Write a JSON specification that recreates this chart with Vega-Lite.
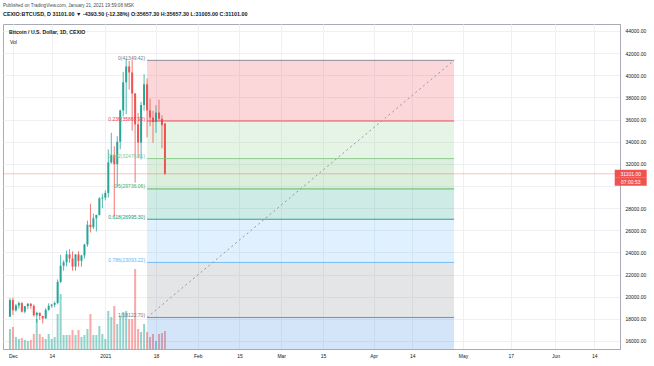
{
  "$schema": "https://vega.github.io/schema/vega-lite/v6.json",
  "width": 617,
  "height": 325,
  "autosize": {"type": "none"},
  "padding": {"left": 3, "top": 24, "right": 34, "bottom": 17},
  "background": "white",
  "config": {
    "font": "Liberation Sans",
    "view": {"stroke": "#a8abb3", "strokeWidth": 1},
    "axis": {"labelFont": "Liberation Sans", "labelFontSize": 5, "labelColor": "#131722", "ticks": false, "domainColor": "#a8abb3", "gridColor": "#eef0f4", "gridWidth": 1, "labelOverlap": false}
  },
  "title": {
    "text": "Published on TradingView.com, January 21, 2021 19:59:08 MSK",
    "subtitle": "CEXIO:BTCUSD, D  31101.00 ▼ -4393.50 (-12.38%) O:35657.30 H:35657.30 L:31005.00 C:31101.00",
    "anchor": "start",
    "frame": "group",
    "fontSize": 4.6,
    "fontWeight": "normal",
    "color": "#4a4a4a",
    "subtitleFontSize": 5.4,
    "subtitleColor": "#131722",
    "subtitleFontWeight": "bold",
    "subtitlePadding": 4,
    "offset": 7
  },
  "datasets": {
    "candles": [
      {"date": "2020-11-30", "open": 18185, "high": 19863, "low": 18185, "close": 19695, "vol": 2000, "dir": "up"},
      {"date": "2020-12-01", "open": 19695, "high": 19920, "low": 18330, "close": 18764, "vol": 2200, "dir": "down"},
      {"date": "2020-12-02", "open": 18764, "high": 19340, "low": 18650, "close": 19204, "vol": 1200, "dir": "up"},
      {"date": "2020-12-03", "open": 19204, "high": 19566, "low": 18925, "close": 19421, "vol": 1000, "dir": "up"},
      {"date": "2020-12-04", "open": 19421, "high": 19510, "low": 18575, "close": 18650, "vol": 1100, "dir": "down"},
      {"date": "2020-12-05", "open": 18650, "high": 19170, "low": 18500, "close": 19147, "vol": 900, "dir": "up"},
      {"date": "2020-12-06", "open": 19147, "high": 19420, "low": 18860, "close": 19359, "vol": 800, "dir": "up"},
      {"date": "2020-12-07", "open": 19359, "high": 19420, "low": 18900, "close": 19166, "vol": 900, "dir": "down"},
      {"date": "2020-12-08", "open": 19166, "high": 19300, "low": 18200, "close": 18324, "vol": 1500, "dir": "down"},
      {"date": "2020-12-09", "open": 18324, "high": 18640, "low": 17650, "close": 18541, "vol": 3000, "dir": "up"},
      {"date": "2020-12-10", "open": 18541, "high": 18560, "low": 17910, "close": 18254, "vol": 1500, "dir": "down"},
      {"date": "2020-12-11", "open": 18254, "high": 18280, "low": 17570, "close": 18036, "vol": 1200, "dir": "down"},
      {"date": "2020-12-12", "open": 18036, "high": 18950, "low": 18000, "close": 18808, "vol": 1000, "dir": "up"},
      {"date": "2020-12-13", "open": 18808, "high": 19400, "low": 18730, "close": 19175, "vol": 1500, "dir": "up"},
      {"date": "2020-12-14", "open": 19175, "high": 19350, "low": 19000, "close": 19273, "vol": 1000, "dir": "up"},
      {"date": "2020-12-15", "open": 19273, "high": 19570, "low": 19050, "close": 19426, "vol": 1200, "dir": "up"},
      {"date": "2020-12-16", "open": 19426, "high": 21560, "low": 19300, "close": 21335, "vol": 3500, "dir": "up"},
      {"date": "2020-12-17", "open": 21335, "high": 23770, "low": 21230, "close": 22797, "vol": 5500, "dir": "up"},
      {"date": "2020-12-18", "open": 22797, "high": 23290, "low": 22350, "close": 23107, "vol": 1400, "dir": "up"},
      {"date": "2020-12-19", "open": 23107, "high": 24170, "low": 22750, "close": 23821, "vol": 1400, "dir": "up"},
      {"date": "2020-12-20", "open": 23821, "high": 24290, "low": 23060, "close": 23455, "vol": 1400, "dir": "down"},
      {"date": "2020-12-21", "open": 23455, "high": 24100, "low": 22350, "close": 22719, "vol": 1900, "dir": "down"},
      {"date": "2020-12-22", "open": 22719, "high": 23850, "low": 22350, "close": 23810, "vol": 1400, "dir": "up"},
      {"date": "2020-12-23", "open": 23810, "high": 24100, "low": 22700, "close": 23232, "vol": 1900, "dir": "down"},
      {"date": "2020-12-24", "open": 23232, "high": 23780, "low": 22710, "close": 23729, "vol": 1200, "dir": "up"},
      {"date": "2020-12-25", "open": 23729, "high": 24770, "low": 23440, "close": 24712, "vol": 1400, "dir": "up"},
      {"date": "2020-12-26", "open": 24712, "high": 26870, "low": 24500, "close": 26493, "vol": 2000, "dir": "up"},
      {"date": "2020-12-27", "open": 26493, "high": 28400, "low": 25800, "close": 26281, "vol": 3500, "dir": "down"},
      {"date": "2020-12-28", "open": 26281, "high": 27500, "low": 26100, "close": 27079, "vol": 1400, "dir": "up"},
      {"date": "2020-12-29", "open": 27079, "high": 27400, "low": 25900, "close": 27385, "vol": 1400, "dir": "up"},
      {"date": "2020-12-30", "open": 27385, "high": 28990, "low": 27330, "close": 28875, "vol": 2300, "dir": "up"},
      {"date": "2020-12-31", "open": 28875, "high": 29300, "low": 28000, "close": 28949, "vol": 1500, "dir": "up"},
      {"date": "2021-01-01", "open": 28949, "high": 29600, "low": 28700, "close": 29374, "vol": 1000, "dir": "up"},
      {"date": "2021-01-02", "open": 29374, "high": 33300, "low": 28950, "close": 32127, "vol": 3800, "dir": "up"},
      {"date": "2021-01-03", "open": 32127, "high": 34800, "low": 32000, "close": 32782, "vol": 3200, "dir": "up"},
      {"date": "2021-01-04", "open": 32782, "high": 33600, "low": 27300, "close": 31971, "vol": 4300, "dir": "down"},
      {"date": "2021-01-05", "open": 31971, "high": 34500, "low": 29900, "close": 33992, "vol": 2500, "dir": "up"},
      {"date": "2021-01-06", "open": 33992, "high": 36900, "low": 33300, "close": 36824, "vol": 3300, "dir": "up"},
      {"date": "2021-01-07", "open": 36824, "high": 40300, "low": 36300, "close": 39371, "vol": 3700, "dir": "up"},
      {"date": "2021-01-08", "open": 39371, "high": 41500, "low": 36500, "close": 40797, "vol": 3800, "dir": "up"},
      {"date": "2021-01-09", "open": 40797, "high": 41300, "low": 38700, "close": 40254, "vol": 3000, "dir": "down"},
      {"date": "2021-01-10", "open": 40254, "high": 41400, "low": 35000, "close": 38356, "vol": 3000, "dir": "down"},
      {"date": "2021-01-11", "open": 38356, "high": 38400, "low": 30300, "close": 35566, "vol": 8000, "dir": "down"},
      {"date": "2021-01-12", "open": 35566, "high": 36600, "low": 32500, "close": 33923, "vol": 2000, "dir": "down"},
      {"date": "2021-01-13", "open": 33923, "high": 37600, "low": 32400, "close": 37316, "vol": 1700, "dir": "up"},
      {"date": "2021-01-14", "open": 37316, "high": 40100, "low": 36800, "close": 39187, "vol": 2500, "dir": "up"},
      {"date": "2021-01-15", "open": 39187, "high": 39700, "low": 34400, "close": 36825, "vol": 1700, "dir": "down"},
      {"date": "2021-01-16", "open": 36825, "high": 37900, "low": 35400, "close": 36178, "vol": 1200, "dir": "down"},
      {"date": "2021-01-17", "open": 36178, "high": 36800, "low": 33900, "close": 35792, "vol": 1500, "dir": "down"},
      {"date": "2021-01-18", "open": 35792, "high": 37300, "low": 34800, "close": 36631, "vol": 800, "dir": "up"},
      {"date": "2021-01-19", "open": 36631, "high": 37800, "low": 35900, "close": 36070, "vol": 1500, "dir": "down"},
      {"date": "2021-01-20", "open": 36070, "high": 36400, "low": 33400, "close": 35494, "vol": 1600, "dir": "down"},
      {"date": "2021-01-21", "open": 35657, "high": 35657, "low": 31005, "close": 31101, "vol": 1800, "dir": "down"}
    ],
    "fib": [
      {"lvl": "0", "price": 41349.42, "label": "0(41349.42)"},
      {"lvl": "0.236", "price": 35867.92, "label": "0.236(35867.92)"},
      {"lvl": "0.382", "price": 32476.81, "label": "0.382(32476.81)"},
      {"lvl": "0.5", "price": 29736.06, "label": "0.5(29736.06)"},
      {"lvl": "0.618", "price": 26995.30, "label": "0.618(26995.30)"},
      {"lvl": "0.786", "price": 23093.22, "label": "0.786(23093.22)"},
      {"lvl": "1", "price": 18122.70, "label": "1(18122.70)"}
    ],
    "bands": [
      {"lvl": "0.236", "top": 41349.42, "bottom": 35867.92},
      {"lvl": "0.382", "top": 35867.92, "bottom": 32476.81},
      {"lvl": "0.5", "top": 32476.81, "bottom": 29736.06},
      {"lvl": "0.618", "top": 29736.06, "bottom": 26995.30},
      {"lvl": "0.786", "top": 26995.30, "bottom": 23093.22},
      {"lvl": "1", "top": 23093.22, "bottom": 18122.70},
      {"lvl": "1.618", "top": 18122.70, "bottom": 3769.95}
    ],
    "trend": [
      {"date": "2021-01-15", "price": 18122.70},
      {"date": "2021-04-28", "price": 41349.42}
    ],
    "last": [
      {"price": 31101, "label": "31101.00", "timer": "07:00:53"}
    ]
  },
  "resolve": {"scale": {"y": "independent"}, "axis": {"y": "independent"}},
  "layer": [
    {
      "data": {"name": "candles"},
      "mark": {"type": "bar", "width": 2},
      "encoding": {
        "x": {
          "field": "date", "type": "temporal", "title": null,
          "scale": {"type": "utc", "domain": [{"year": 2020, "month": 11, "date": 29, "hours": 8, "minutes": 24, "utc": true}, {"year": 2021, "month": 6, "date": 20, "hours": 23, "minutes": 30, "utc": true}]},
          "axis": {
            "orient": "bottom", "title": null, "grid": true, "labelPadding": 4, "labelOverlap": false, "labelFlush": false,
            "values": [
              {"year": 2020, "month": 12, "date": 1, "utc": true},
              {"year": 2020, "month": 12, "date": 14, "utc": true},
              {"year": 2021, "month": 1, "date": 1, "utc": true},
              {"year": 2021, "month": 1, "date": 18, "utc": true},
              {"year": 2021, "month": 2, "date": 1, "utc": true},
              {"year": 2021, "month": 2, "date": 15, "utc": true},
              {"year": 2021, "month": 3, "date": 1, "utc": true},
              {"year": 2021, "month": 3, "date": 15, "utc": true},
              {"year": 2021, "month": 4, "date": 1, "utc": true},
              {"year": 2021, "month": 4, "date": 14, "utc": true},
              {"year": 2021, "month": 5, "date": 1, "utc": true},
              {"year": 2021, "month": 5, "date": 17, "utc": true},
              {"year": 2021, "month": 6, "date": 1, "utc": true},
              {"year": 2021, "month": 6, "date": 14, "utc": true}
            ],
            "labelExpr": "utcdate(datum.value) == 1 ? (utcmonth(datum.value) == 0 ? utcFormat(datum.value, '%Y') : utcFormat(datum.value, '%b')) : utcFormat(datum.value, '%-d')"
          }
        },
        "y": {"field": "vol", "type": "quantitative", "title": null, "scale": {"domain": [0, 32500], "nice": false, "zero": true}, "axis": null},
        "color": {
          "field": "dir", "type": "nominal", "legend": null,
          "scale": {"domain": ["up", "down", "0", "0.236", "0.382", "0.5", "0.618", "0.786", "1", "1.618"], "range": ["#26a69a", "#ef5350", "#787b86", "#f23645", "#81c784", "#4caf50", "#089981", "#64b5f6", "#787b86", "#2f7fe0"]}
        },
        "opacity": {
          "datum": "Vol", "type": "nominal",
          "scale": {"type": "ordinal", "domain": ["Vol"], "range": [0.5]},
          "legend": {
            "title": "Bitcoin / U.S. Dollar, 1D, CEXIO", "orient": "top-left", "offset": 6,
            "titleFontSize": 5.2, "titleFontWeight": "bold", "titleColor": "#131722", "titlePadding": 4,
            "labelFontSize": 5, "labelColor": "#131722", "labelOffset": -4,
            "symbolSize": 0, "symbolStrokeWidth": 0, "symbolOpacity": 0
          }
        }
      }
    },
    {
      "data": {"name": "bands"},
      "mark": {"type": "rect", "opacity": 0.2, "clip": true},
      "encoding": {
        "x": {"datum": {"year": 2021, "month": 1, "date": 15, "utc": true}, "type": "temporal"},
        "x2": {"datum": {"year": 2021, "month": 4, "date": 28, "utc": true}},
        "y": {
          "field": "top", "type": "quantitative", "title": null,
          "scale": {"domain": [15274, 44632], "nice": false, "zero": false},
          "axis": {
            "orient": "right", "title": null, "grid": true, "labelAlign": "left", "labelPadding": 5, "labelOverlap": false, "labelFlush": false,
            "values": [16000, 18000, 20000, 22000, 24000, 26000, 28000, 30000, 32000, 34000, 36000, 38000, 40000, 42000, 44000],
            "labelExpr": "datum.value == 30000 ? '' : format(datum.value, '.2f')"
          }
        },
        "y2": {"field": "bottom"},
        "color": {"field": "lvl", "type": "nominal", "legend": null}
      }
    },
    {
      "data": {"name": "candles"},
      "mark": {"type": "rule", "strokeWidth": 0.8},
      "encoding": {
        "x": {"field": "date", "type": "temporal", "title": null},
        "y": {"field": "low", "type": "quantitative", "axis": null, "scale": {"domain": [15274, 44632], "nice": false, "zero": false}},
        "y2": {"field": "high"},
        "color": {"field": "dir", "type": "nominal", "legend": null}
      }
    },
    {
      "data": {"name": "candles"},
      "mark": {"type": "bar", "width": 2},
      "encoding": {
        "x": {"field": "date", "type": "temporal", "title": null},
        "y": {"field": "open", "type": "quantitative", "axis": null, "scale": {"domain": [15274, 44632], "nice": false, "zero": false}},
        "y2": {"field": "close"},
        "color": {"field": "dir", "type": "nominal", "legend": null}
      }
    },
    {
      "data": {"name": "last"},
      "mark": {"type": "rule", "color": "#ef5350", "opacity": 0.35, "strokeWidth": 1},
      "encoding": {
        "y": {"field": "price", "type": "quantitative", "axis": null, "scale": {"domain": [15274, 44632], "nice": false, "zero": false}}
      }
    },
    {
      "data": {"name": "fib"},
      "mark": {"type": "rule", "strokeWidth": 1, "opacity": 0.85},
      "encoding": {
        "x": {"datum": {"year": 2021, "month": 1, "date": 15, "utc": true}, "type": "temporal"},
        "x2": {"datum": {"year": 2021, "month": 4, "date": 28, "utc": true}},
        "y": {"field": "price", "type": "quantitative", "axis": null, "scale": {"domain": [15274, 44632], "nice": false, "zero": false}},
        "color": {"field": "lvl", "type": "nominal", "legend": null}
      }
    },
    {
      "data": {"name": "trend"},
      "mark": {"type": "line", "color": "#9598a1", "strokeWidth": 1, "strokeDash": [2, 3]},
      "encoding": {
        "x": {"field": "date", "type": "temporal", "title": null},
        "y": {"field": "price", "type": "quantitative", "axis": null, "scale": {"domain": [15274, 44632], "nice": false, "zero": false}}
      }
    },
    {
      "data": {"name": "fib"},
      "mark": {"type": "text", "align": "right", "baseline": "middle", "dx": -2, "dy": -2.5, "fontSize": 5},
      "encoding": {
        "x": {"datum": {"year": 2021, "month": 1, "date": 15, "utc": true}, "type": "temporal"},
        "y": {"field": "price", "type": "quantitative", "axis": null, "scale": {"domain": [15274, 44632], "nice": false, "zero": false}},
        "text": {"field": "label"},
        "color": {"field": "lvl", "type": "nominal", "legend": null}
      }
    },
    {
      "data": {"name": "last"},
      "mark": {"type": "tick", "orient": "horizontal", "size": 32, "thickness": 8, "color": "#ef5350", "opacity": 1, "clip": false},
      "encoding": {
        "x": {"datum": {"year": 2021, "month": 6, "date": 26, "hours": 6, "utc": true}, "type": "temporal"},
        "y": {"field": "price", "type": "quantitative", "axis": null, "scale": {"domain": [15274, 44632], "nice": false, "zero": false}}
      }
    },
    {
      "data": {"name": "last"},
      "mark": {"type": "tick", "orient": "horizontal", "size": 32, "thickness": 8, "color": "#ef5350", "opacity": 1, "clip": false, "yOffset": 8},
      "encoding": {
        "x": {"datum": {"year": 2021, "month": 6, "date": 26, "hours": 6, "utc": true}, "type": "temporal"},
        "y": {"field": "price", "type": "quantitative", "axis": null, "scale": {"domain": [15274, 44632], "nice": false, "zero": false}}
      }
    },
    {
      "data": {"name": "last"},
      "mark": {"type": "text", "align": "center", "baseline": "middle", "fontSize": 5, "color": "white", "clip": false},
      "encoding": {
        "x": {"datum": {"year": 2021, "month": 6, "date": 26, "hours": 6, "utc": true}, "type": "temporal"},
        "y": {"field": "price", "type": "quantitative", "axis": null, "scale": {"domain": [15274, 44632], "nice": false, "zero": false}},
        "text": {"field": "label"}
      }
    },
    {
      "data": {"name": "last"},
      "mark": {"type": "text", "align": "center", "baseline": "middle", "fontSize": 5, "color": "white", "clip": false, "dy": 8},
      "encoding": {
        "x": {"datum": {"year": 2021, "month": 6, "date": 26, "hours": 6, "utc": true}, "type": "temporal"},
        "y": {"field": "price", "type": "quantitative", "axis": null, "scale": {"domain": [15274, 44632], "nice": false, "zero": false}},
        "text": {"field": "timer"}
      }
    }
  ]
}
